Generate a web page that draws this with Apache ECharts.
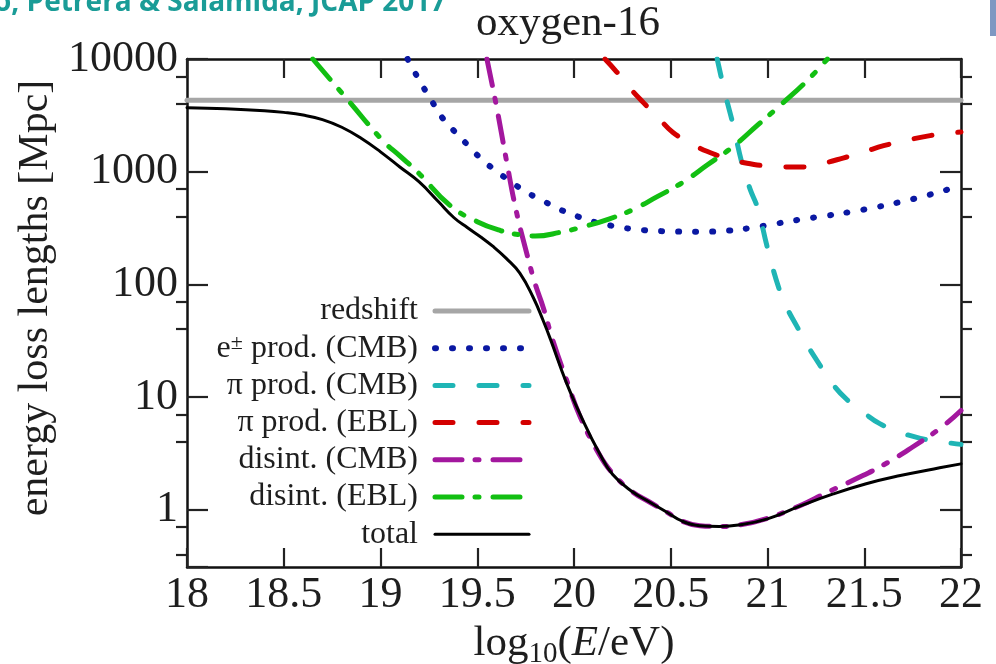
<!DOCTYPE html>
<html><head><meta charset="utf-8">
<script src="https://cdn.jsdelivr.net/npm/echarts@6/dist/echarts.min.js"></script>
<style>html,body{margin:0;padding:0;background:#fff}#c{width:996px;height:664px}</style>
</head><body><div id="c"></div>
<script>
// ---------- data ----------
const xMin = 18, xMax = 22, xStep = 0.5;
const yMin = 0.31, yMax = 10000;
const yTickValues = [1, 10, 100, 1000, 10000];
const yTickLabels = ['1', '10', '100', '1000', '10000'];

const seriesNames = ['redshift', 'e\u00b1 prod. (CMB)', '\u03c0 prod. (CMB)', '\u03c0 prod. (EBL)', 'disint. (CMB)', 'disint. (EBL)', 'total'];

const redshiftX = [18, 22];
const redshiftY = [4300, 4300];

const eeX = [19.14, 19.2, 19.27, 19.32, 19.38, 19.45, 19.52, 19.58, 19.68, 19.76, 19.85, 19.93, 20.02, 20.1, 20.2, 20.3, 20.4, 20.5, 20.65, 20.8, 20.91, 21.0, 21.17, 21.3, 21.43, 21.55, 21.68, 21.8, 21.9, 22.0];
const eeY = [10000, 6500, 4100, 3000, 2300, 1730, 1300, 1070, 800, 650, 540, 460, 400, 360, 330, 310, 300, 295, 293, 300, 316, 335, 376, 405, 440, 480, 535, 600, 670, 750];

const piCmbX = [20.74, 20.78, 20.82, 20.87, 20.91, 20.95, 21.0, 21.06, 21.1, 21.15, 21.2, 21.26, 21.33, 21.41, 21.5, 21.58, 21.68, 21.79, 21.9, 22.0];
const piCmbY = [10000, 5000, 2700, 1150, 700, 470, 210, 91, 62, 43, 30, 20.5, 13.5, 9.5, 7.2, 5.8, 4.9, 4.3, 4.0, 3.8];

const piEblX = [20.16, 20.22, 20.29, 20.36, 20.44, 20.51, 20.6, 20.69, 20.8, 20.93, 21.05, 21.17, 21.28, 21.39, 21.5, 21.6, 21.72, 21.84, 21.93, 22.0];
const piEblY = [10000, 7700, 5500, 4080, 2950, 2240, 1800, 1510, 1300, 1160, 1110, 1100, 1180, 1320, 1500, 1700, 1900, 2090, 2180, 2250];

const disCmbX = [19.55, 19.6, 19.65, 19.7, 19.76, 19.8, 19.84, 19.89, 19.96, 20.03, 20.13, 20.2, 20.3, 20.39, 20.48, 20.56, 20.65, 20.75, 20.85, 21.0, 21.17, 21.3, 21.45, 21.6, 21.75, 21.9, 22.0];
const disCmbY = [10000, 3760, 1280, 460, 177, 100, 63, 32, 14.4, 6.8, 3.1, 2.1, 1.45, 1.17, 0.95, 0.79, 0.72, 0.71, 0.73, 0.84, 1.09, 1.4, 1.85, 2.5, 3.6, 5.4, 7.6];

const disEblX = [18.65, 18.84, 19.01, 19.1, 19.19, 19.36, 19.5, 19.62, 19.72, 19.8, 19.93, 20.05, 20.18, 20.3, 20.43, 20.56, 20.69, 20.82, 20.95, 21.08, 21.2, 21.31];
const disEblY = [10000, 4150, 1900, 1380, 1000, 500, 360, 300, 275, 268, 290, 325, 380, 457, 600, 800, 1150, 1660, 2600, 4080, 6300, 10000];

const totalX = [18.0, 18.2, 18.4, 18.5, 18.6, 18.7, 18.8, 18.9, 19.0, 19.1, 19.2, 19.3, 19.38, 19.45, 19.52, 19.58, 19.65, 19.72, 19.79, 19.84, 19.88, 19.96, 20.05, 20.13, 20.2, 20.3, 20.39, 20.48, 20.56, 20.65, 20.75, 20.85, 21.0, 21.17, 21.34, 21.51, 21.68, 21.86, 22.0];
const totalY = [3700, 3620, 3480, 3360, 3180, 2900, 2480, 1980, 1500, 1100, 810, 540, 390, 318, 262, 218, 170, 126, 76, 48, 32, 13.5, 6.0, 3.2, 2.05, 1.45, 1.17, 0.95, 0.79, 0.72, 0.71, 0.73, 0.83, 1.08, 1.38, 1.7, 2.0, 2.3, 2.55];

// ---------- styles ----------
const SERIF = '"Liberation Serif", "DejaVu Serif", serif';
const TXT = '#1e1e1e';
const styles = [
  {color: '#a6a6a6', width: 5, type: 'solid'},
  {color: '#0a18a2', width: 6, type: [1, 16]},
  {color: '#1fb5b5', width: 5, type: [18, 26]},
  {color: '#d40000', width: 5, type: [18, 26]},
  {color: '#a3179e', width: 5, type: [27, 13, 4, 14]},
  {color: '#12bf12', width: 5, type: [27, 13, 4, 14]},
  {color: '#000000', width: 3, type: 'solid'}
];
const xs = [redshiftX, eeX, piCmbX, piEblX, disCmbX, disEblX, totalX];
const ys = [redshiftY, eeY, piCmbY, piEblY, disCmbY, disEblY, totalY];

const pairs = (a, b) => a.map((v, i) => [v, b[i]]);

const series = seriesNames.map((n, i) => ({
  name: n, type: 'line', xAxisIndex: 0, yAxisIndex: 0,
  data: pairs(xs[i], ys[i]),
  symbol: 'none', showSymbol: false,
  smooth: i === 0 ? false : 0.45,
  lineStyle: {color: styles[i].color, width: styles[i].width, type: styles[i].type, cap: 'round', join: 'round'},
  itemStyle: {color: styles[i].color},
  emphasis: {disabled: true},
  z: 2 + i
}));

const frame = {lineStyle: {color: '#111', width: 2.5}};
const majorTick = (len) => ({show: true, inside: true, length: len, lineStyle: {color: '#222', width: 2.2}});
// negative length turns the minor ticks toward the plot, like the major ones
const minorTickOpt = {show: true, splitNumber: 3, length: -11, lineStyle: {color: '#222', width: 2.2}};

const chart = echarts.init(document.getElementById('c'), null, {renderer: 'canvas'});
chart.setOption({
  animation: false,
  backgroundColor: '#ffffff',
  title: {
    text: 'oxygen-16', left: 476, top: 2, padding: 0,
    textStyle: {fontFamily: SERIF, fontSize: 43, fontWeight: 'normal', color: TXT}
  },
  graphic: [
    {id: 'cite', type: 'text', x: -6, y: -11, silent: true,
     style: {text: 'o, Petrera & Salamida, JCAP 2017', font: 'bold 28px "Open Sans", "Noto Sans", sans-serif', fill: '#1a9c97'}},
    {id: 'edge', type: 'rect', silent: true, shape: {x: 990, y: 0, width: 6, height: 36}, style: {fill: '#7f98c2'}}
  ],
  grid: {left: 187, right: 35, top: 59, bottom: 97, containLabel: false, outerBoundsMode: 'none'},
  xAxis: [
    {type: 'value', position: 'bottom', min: xMin, max: xMax, interval: xStep,
     axisLine: frame, axisTick: majorTick(19), splitLine: {show: false},
     axisLabel: {margin: 6, fontFamily: SERIF, fontSize: 44, color: TXT},
     name: '{a|log}{s|10}{a|(}{i|E}{a|/eV)}', nameLocation: 'middle', nameGap: 42,
     nameTextStyle: {rich: {
       a: {fontFamily: SERIF, fontSize: 43, color: TXT, lineHeight: 50},
       i: {fontFamily: SERIF, fontSize: 43, color: TXT, lineHeight: 50, fontStyle: 'italic'},
       s: {fontFamily: SERIF, fontSize: 29, color: TXT, lineHeight: 28, verticalAlign: 'bottom'}
     }}},
    {type: 'value', position: 'top', min: xMin, max: xMax, interval: xStep,
     axisLine: frame, axisTick: majorTick(19), axisLabel: {show: false}, splitLine: {show: false}}
  ],
  yAxis: [
    {type: 'log', position: 'left', min: yMin, max: yMax, logBase: 10,
     axisLine: frame, axisTick: majorTick(21), splitLine: {show: false}, minorTick: minorTickOpt,
     minorSplitLine: {show: false},
     axisLabel: {margin: 9, fontFamily: SERIF, fontSize: 44, color: TXT,
       formatter: v => { const k = yTickValues.findIndex(t => Math.abs(t - v) / t < 1e-6); return k >= 0 ? yTickLabels[k] : ''; }},
     name: 'energy loss lengths [Mpc]', nameLocation: 'middle', nameGap: 128,
     nameTextStyle: {fontFamily: SERIF, fontSize: 42, color: TXT, padding: [0, 0, 0, 30]}},
    {type: 'log', position: 'right', min: yMin, max: yMax, logBase: 10,
     axisLine: frame, axisTick: majorTick(21), minorTick: minorTickOpt, minorSplitLine: {show: false},
     axisLabel: {show: false}, splitLine: {show: false}}
  ],
  legend: {
    orient: 'vertical', right: 459, top: 290, align: 'right',
    itemWidth: 94, itemHeight: 14, itemGap: 5.2, selectedMode: false,
    itemStyle: {color: 'rgba(0,0,0,0)', borderWidth: 0, opacity: 0},
    textStyle: {fontFamily: SERIF, fontSize: 32, color: TXT, padding: [0, 12, 0, 0],
      rich: {
        n: {fontFamily: SERIF, fontSize: 32, color: TXT},
        p: {fontFamily: SERIF, fontSize: 22, color: TXT, verticalAlign: 'top'}
      }},
    formatter: name => name === seriesNames[1] ? '{n|e}{p|\u00b1}{n| prod. (CMB)}' : name,
    data: seriesNames.map((n, i) => ({name: n, lineStyle: {width: styles[i].width}}))
  },
  series: series
});
</script>
</body></html>
